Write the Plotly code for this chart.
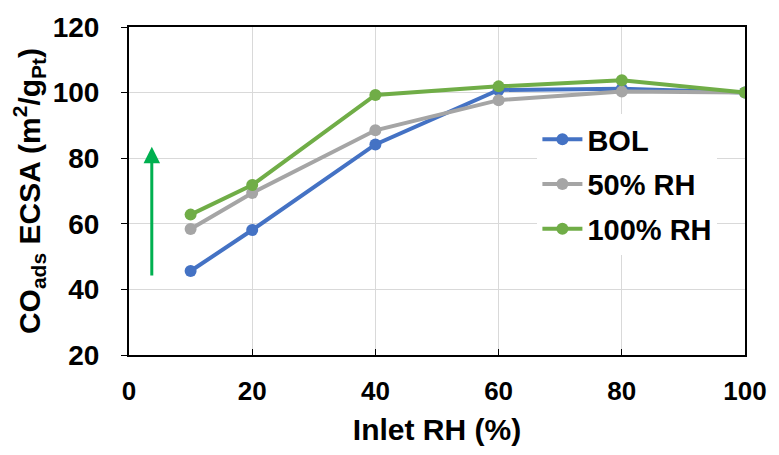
import plotly.graph_objects as go

inlet_rh = [10, 20, 40, 60, 80, 100]
bol = [45.6, 58.1, 84.2, 100.8, 101.2, 100.0]
rh50 = [58.4, 69.4, 88.5, 97.7, 100.3, 100.0]
rh100 = [62.8, 71.8, 99.3, 101.9, 103.8, 100.0]

x_ticks = [0, 20, 40, 60, 80, 100]
y_ticks = [20, 40, 60, 80, 100, 120]

arrow_x = 3.7
arrow_tail = 43.8
arrow_head = 83.5

FONT = "Liberation Sans, Arial, sans-serif"

fig = go.Figure()
series = [("BOL", bol, "#4472C4"), ("50% RH", rh50, "#A5A5A5"), ("100% RH", rh100, "#70AD47")]
for i, (name, ys, col) in enumerate(series):
    fig.add_trace(go.Scatter(
        x=inlet_rh, y=ys, name=name, mode="lines+markers",
        line=dict(color=col, width=4), marker=dict(color=col, size=12),
        legendgroup=f"g{i}",
    ))

fig.add_annotation(
    x=arrow_x, y=arrow_head, ax=arrow_x, ay=arrow_tail,
    xref="x", yref="y", axref="x", ayref="y",
    showarrow=True, arrowhead=2, arrowsize=1.1, arrowwidth=3, arrowcolor="#00B050", text="",
)

fig.update_layout(
    width=779, height=455,
    margin=dict(l=121, r=42, t=19, b=108),
    paper_bgcolor="white", plot_bgcolor="white",
    font=dict(family=FONT, size=24, color="black", weight="bold"),
    showlegend=True,
    legend=dict(
        x=0.663, y=0.735, xanchor="left", yanchor="top",
        bgcolor="white", font=dict(size=29, family=FONT, weight="bold"),
        traceorder="grouped", tracegroupgap=4, itemwidth=40,
    ),
    xaxis=dict(
        range=[0, 100], tickvals=x_ticks, showgrid=True, gridcolor="#D9D9D9", gridwidth=1,
        showline=True, linecolor="black", linewidth=2, mirror=True,
        ticks="inside", ticklen=6, tickcolor="black", tickwidth=1,
        ticklabelstandoff=12,
        title=dict(text="Inlet RH (%)", standoff=14, font=dict(size=30, family=FONT, weight="bold")),
        tickfont=dict(size=26, family=FONT, weight="bold"),
        zeroline=False, automargin=False,
    ),
    yaxis=dict(
        range=[20, 120], tickvals=y_ticks, showgrid=True, gridcolor="#D9D9D9", gridwidth=1,
        showline=True, linecolor="black", linewidth=2, mirror=True,
        ticks="outside", ticklen=6, tickcolor="black", tickwidth=1,
        ticklabelstandoff=16,
        title=dict(text="CO<sub>ads</sub> ECSA (m<sup>2</sup>/g<sub>Pt</sub>)", standoff=6,
                   font=dict(size=30, family=FONT, weight="bold")),
        tickfont=dict(size=28, family=FONT, weight="bold"),
        zeroline=False, automargin=False,
    ),
)

fig.write_html("out.html")
